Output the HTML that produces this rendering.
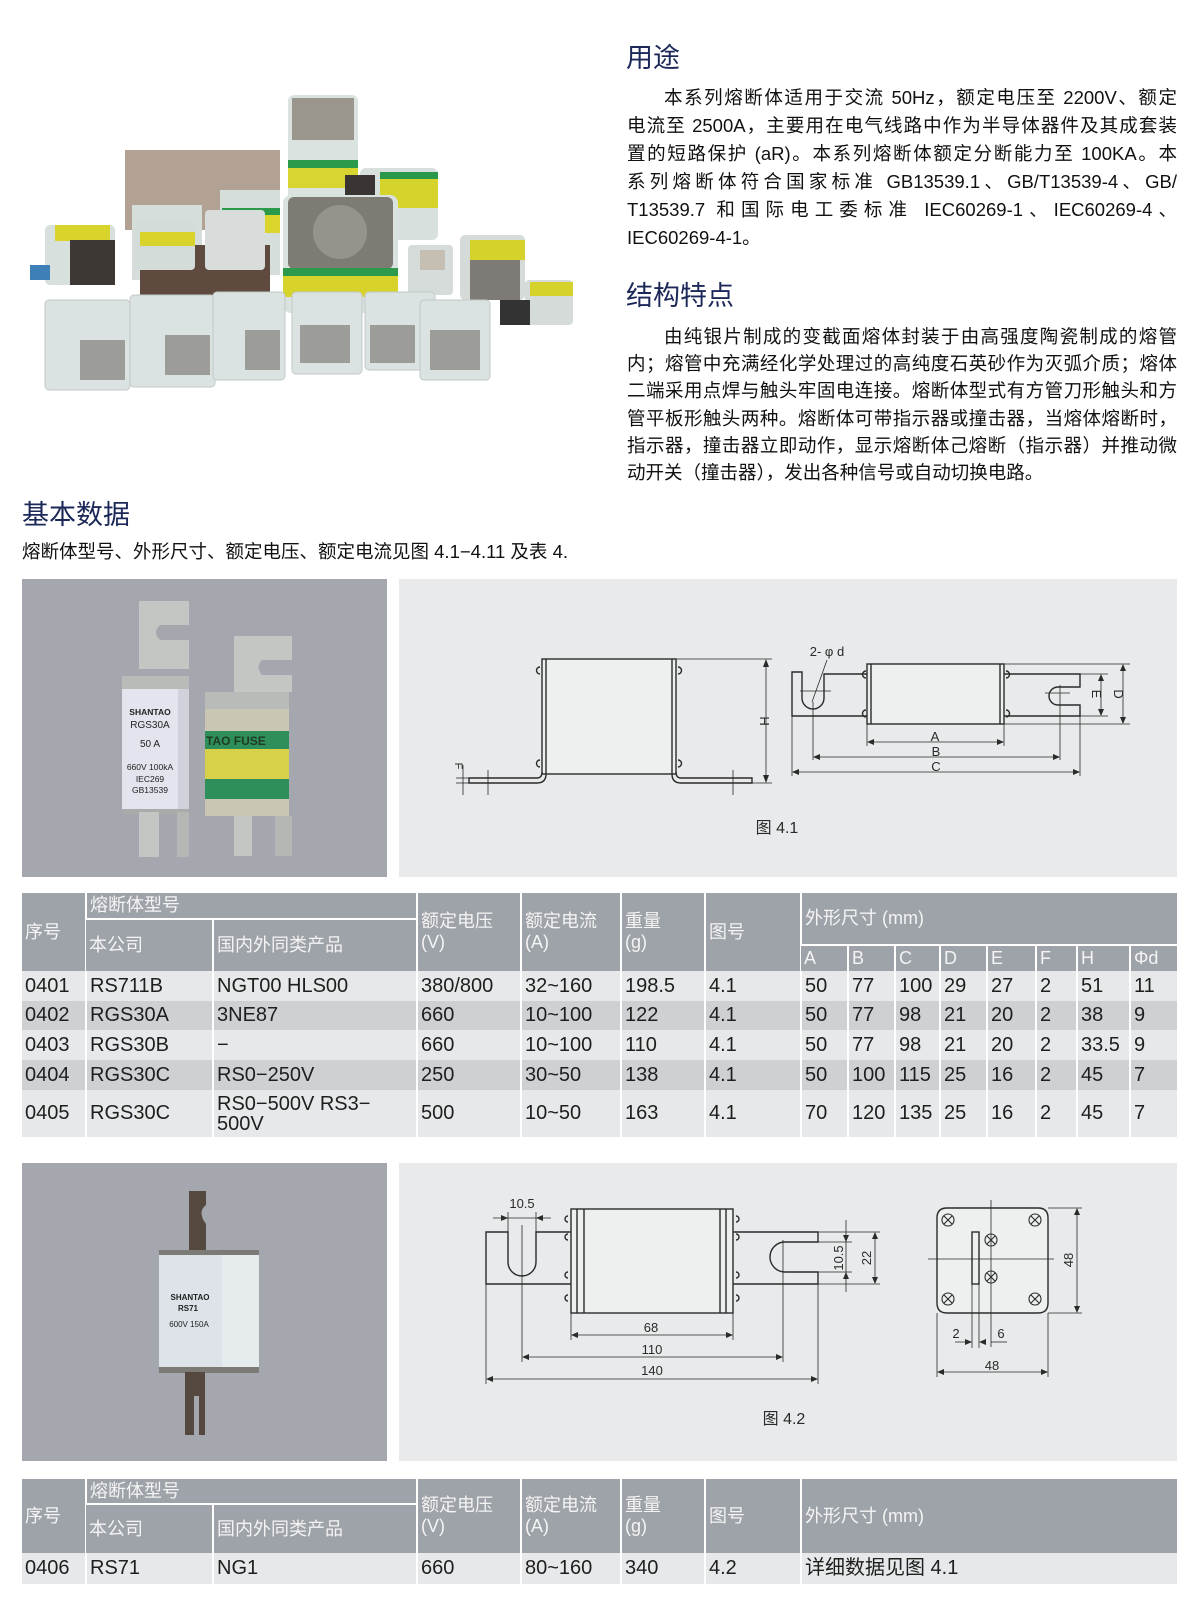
<!DOCTYPE html>
<html><head><meta charset="utf-8">
<style>
*{margin:0;padding:0;box-sizing:border-box}
body{width:1200px;height:1601px;background:#fff;position:relative;overflow:hidden;font-family:"Liberation Sans","Noto Sans CJK SC",sans-serif;color:#111}
.t{position:absolute;font-size:27px;color:#1c2858;line-height:32px;white-space:nowrap}
.ln{position:absolute;left:627px;width:550px;font-size:18.5px;line-height:26px;height:26px;white-space:nowrap;text-align:justify;text-align-last:justify;color:#111}
.ln.last{text-align:left;text-align-last:left}
.ln.ind{padding-left:37px}
.tb{position:absolute;left:22px;border-collapse:collapse;table-layout:fixed;width:1155px}
.tb td{padding:0 0 0 3px;border-left:2px solid #fff;white-space:nowrap;overflow:hidden}
.tb td:first-child{border-left:none}
.h td{background:#9ea2a9;color:#f4f4f4;font-size:18px;line-height:21px;vertical-align:middle}
.d td{font-size:20px;color:#1e1e1e;vertical-align:middle;line-height:21px}
.l td{background:#e6e8e9}.k td{background:#ced1d4}
.bt{border-bottom:2px solid #fff}
svg{position:absolute;left:0;top:0}
</style></head><body>
<svg width="1200" height="1601" viewBox="0 0 1200 1601" font-family="Liberation Sans, Noto Sans CJK SC, sans-serif">
<!-- top photo -->
<g>
 <rect x="125" y="150" width="155" height="80" fill="#b2a294" transform="skew(0,-3)"/>
 <rect x="132" y="205" width="70" height="75" fill="#d6dedc"/>
 <rect x="220" y="190" width="60" height="85" fill="#d6dedc"/>
 <rect x="222" y="215" width="58" height="18" fill="#d9d52a"/><rect x="222" y="208" width="58" height="7" fill="#2a9a4a"/>
 <rect x="288" y="95" width="70" height="105" rx="6" fill="#dbe3e1"/>
 <rect x="292" y="98" width="62" height="42" fill="#9a968d"/>
 <rect x="288" y="168" width="70" height="20" fill="#d8d430"/><rect x="288" y="160" width="70" height="8" fill="#2b9a4c"/>
 <rect x="360" y="168" width="78" height="72" rx="6" fill="#d8e0de"/>
 <rect x="380" y="178" width="58" height="30" fill="#d6d32c"/><rect x="380" y="172" width="58" height="7" fill="#2a984a"/>
 <rect x="345" y="175" width="30" height="50" fill="#3a3532"/>
 <rect x="45" y="225" width="70" height="60" rx="5" fill="#d8e0de"/><rect x="55" y="225" width="55" height="16" fill="#d8d42c"/>
 <rect x="70" y="240" width="45" height="45" fill="#3d3834"/>
 <rect x="30" y="265" width="20" height="15" fill="#3f7fb8"/>
 <rect x="140" y="245" width="130" height="55" fill="#5e4a3e"/>
 <rect x="135" y="220" width="60" height="50" rx="4" fill="#d4dcda"/><rect x="140" y="232" width="55" height="14" fill="#d8d42c"/>
 <rect x="205" y="210" width="60" height="60" rx="4" fill="#d8dddb"/>
 <rect x="283" y="195" width="115" height="118" rx="8" fill="#dae2e0"/>
 <rect x="288" y="197" width="105" height="72" rx="6" fill="#7e7b75"/><circle cx="340" cy="232" r="27" fill="#96938c"/>
 <rect x="283" y="275" width="115" height="22" fill="#d8d32a"/><rect x="283" y="268" width="115" height="8" fill="#2b9a4c"/>
 <rect x="408" y="245" width="45" height="50" rx="4" fill="#d6dcda"/><rect x="420" y="250" width="25" height="20" fill="#c4bfb2"/>
 <rect x="460" y="235" width="65" height="65" rx="5" fill="#d4dbd9"/><rect x="470" y="240" width="55" height="20" fill="#d6d22c"/>
 <rect x="470" y="260" width="50" height="40" fill="#7e7b76"/>
 <rect x="525" y="280" width="48" height="45" rx="4" fill="#d4dbd9"/><rect x="530" y="282" width="43" height="14" fill="#d6d22c"/>
 <rect x="500" y="300" width="30" height="25" fill="#333"/>
 <g fill="#dbe3e2" stroke="#c2c9c8">
  <rect x="45" y="300" width="85" height="90" rx="4"/><rect x="130" y="295" width="85" height="92" rx="4"/>
  <rect x="213" y="292" width="72" height="88" rx="4"/><rect x="292" y="292" width="70" height="82" rx="4"/>
  <rect x="365" y="292" width="70" height="78" rx="4"/><rect x="420" y="300" width="70" height="80" rx="4"/>
 </g>
 <g fill="#9c9d98"><rect x="80" y="340" width="45" height="40"/><rect x="165" y="335" width="45" height="40"/><rect x="245" y="330" width="35" height="40"/><rect x="300" y="325" width="50" height="38"/><rect x="370" y="325" width="45" height="38"/><rect x="430" y="330" width="50" height="40"/></g>
</g>
<!-- panels -->
<rect x="22" y="579" width="365" height="298" fill="#a4a8ae"/>
<rect x="399" y="579" width="778" height="298" fill="#e8eaeb"/>
<rect x="22" y="1163" width="365" height="298" fill="#a4a8ae"/>
<rect x="399" y="1163" width="778" height="298" fill="#e8eaeb"/>
<!-- photo 1 fuses -->
<path d="M139 601 H189 V625 H160 Q152 632 160 640 H189 V669 H139 Z" fill="#c4c6c4"/>
<rect x="122" y="676" width="67" height="14" fill="#b9bbb8"/>
<rect x="122" y="689" width="56" height="120" fill="#e3e5ee"/><rect x="178" y="689" width="11" height="120" fill="#cfd2da"/>
<rect x="122" y="809" width="67" height="5" fill="#aaa"/>
<rect x="139" y="812" width="20" height="45" fill="#c4c6c4"/><rect x="177" y="812" width="12" height="45" fill="#b5b7b5"/>
<g font-size="8.5" fill="#222" text-anchor="middle"><text x="150" y="715" font-weight="bold">SHANTAO</text><text x="150" y="728" font-size="10">RGS30A</text><text x="150" y="747" font-size="10">50   A</text><text x="150" y="770">660V 100kA</text><text x="150" y="782">IEC269</text><text x="150" y="793">GB13539</text></g>
<path d="M234 636 H292 V660 H262 Q255 667 262 675 H292 V692 H234 Z" fill="#c4c6c4"/>
<rect x="205" y="692" width="84" height="18" fill="#b9bbb8"/>
<rect x="205" y="709" width="84" height="107" fill="#c9c6b4"/>
<rect x="205" y="731" width="84" height="18" fill="#2f8f5a"/><rect x="205" y="749" width="84" height="30" fill="#d7d14a"/><rect x="205" y="779" width="84" height="20" fill="#2f8f5a"/>
<text x="206" y="745" font-size="12" font-weight="bold" fill="#1e3a22">TAO FUSE</text>
<rect x="234" y="816" width="18" height="40" fill="#c4c6c4"/><rect x="275" y="816" width="17" height="40" fill="#b5b7b5"/>
<!-- photo 2 fuse -->
<path d="M189 1191 H206 V1205 Q197 1212 206 1224 V1253 H189 Z" fill="#55483f"/>
<rect x="159" y="1250" width="100" height="6" fill="#7c7a74"/>
<rect x="159" y="1255" width="63" height="114" fill="#dde3e8"/><rect x="222" y="1255" width="37" height="114" fill="#e6ebee"/>
<rect x="159" y="1367" width="100" height="6" fill="#7c7a74"/>
<path d="M185 1372 H205 V1435 H199 V1396 H194 V1435 H185 Z" fill="#55483f"/>
<g font-size="8" fill="#222" text-anchor="middle"><text x="190" y="1300" font-weight="bold">SHANTAO</text><text x="188" y="1311" font-weight="bold">RS71</text><text x="189" y="1327">600V 150A</text></g>
<!-- drawing 4.1 -->
<g fill="none" stroke="#2a2a2a" stroke-width="1.4">
 <rect x="542" y="659" width="134" height="115" fill="#eef0f0"/>
 <line x1="546" y1="659" x2="546" y2="774"/><line x1="672" y1="659" x2="672" y2="774"/>
 <path d="M546 774 Q546 783 537 783 H469 V778 H537 Q542 778 542 772"/>
 <path d="M672 774 Q672 783 681 783 H752 V778 H681 Q676 778 676 772"/>
 <path d="M540 667 a3 3 0 0 0 0 7 M540 760 a3 3 0 0 0 0 7 M678 667 a3 3 0 0 1 0 7 M678 760 a3 3 0 0 1 0 7"/>
 <g stroke-width="0.8"><line x1="676" y1="659" x2="772" y2="659"/><line x1="752" y1="783" x2="772" y2="783"/><line x1="766" y1="661" x2="766" y2="781"/>
 <line x1="463" y1="765" x2="463" y2="795"/><line x1="488" y1="770" x2="488" y2="795"/><line x1="733" y1="770" x2="733" y2="795"/><line x1="456" y1="778" x2="470" y2="778"/><line x1="456" y1="783" x2="470" y2="783"/></g>
 <rect x="867" y="664" width="137" height="60" fill="#eef0f0"/>
 <line x1="871" y1="664" x2="871" y2="724"/><line x1="1000" y1="664" x2="1000" y2="724"/>
 <path d="M867 674 H824 V698 A11 11 0 0 1 802 698 V672 H792 V716 H867"/>
 <path d="M1004 674 H1080 V687 H1058 A9 9 0 0 0 1058 705 H1080 V716 H1004"/>
 <path d="M866 671 a3 3 0 0 0 0 7 M866 710 a3 3 0 0 0 0 7 M1006 671 a3 3 0 0 1 0 7 M1006 710 a3 3 0 0 1 0 7"/>
 <g stroke-width="0.8"><line x1="800" y1="691" x2="831" y2="691"/><line x1="1045" y1="693" x2="1070" y2="693"/><line x1="1060" y1="685" x2="1060" y2="760"/><line x1="813" y1="702" x2="813" y2="760"/>
 <line x1="827" y1="660" x2="812" y2="702"/>
 <line x1="1004" y1="664" x2="1130" y2="664"/><line x1="1004" y1="724" x2="1130" y2="724"/><line x1="1080" y1="674" x2="1108" y2="674"/><line x1="1080" y1="716" x2="1108" y2="716"/>
 <line x1="1123" y1="666" x2="1123" y2="722"/><line x1="1101" y1="676" x2="1101" y2="714"/>
 <line x1="867" y1="724" x2="867" y2="746"/><line x1="1004" y1="724" x2="1004" y2="746"/><line x1="869" y1="742" x2="1002" y2="742"/>
 <line x1="815" y1="757" x2="1058" y2="757"/><line x1="792" y1="716" x2="792" y2="776"/><line x1="1080" y1="716" x2="1080" y2="776"/><line x1="794" y1="772" x2="1078" y2="772"/></g>
</g>
<g fill="#2a2a2a">
 <path d="M766 659 l-3 8 h6z M766 783 l-3 -8 h6z M1123 664 l-3 7 h6z M1123 724 l-3 -7 h6z M1101 674 l-3 7 h6z M1101 716 l-3 -7 h6z"/>
 <path d="M867 742 l7 -3 v6z M1004 742 l-7 -3 v6z M813 757 l7 -3 v6z M1060 757 l-7 -3 v6z M792 772 l7 -3 v6z M1080 772 l-7 -3 v6z"/>
</g>
<g font-size="13" fill="#2a2a2a" text-anchor="middle">
 <text x="935" y="741">A</text><text x="936" y="756">B</text><text x="936" y="771">C</text>
 <text x="827" y="656">2- φ d</text>
 <text transform="translate(760,721) rotate(90)">H</text>
 <text transform="translate(455,766) rotate(90)" font-size="11">F</text>
 <text transform="translate(1114,694) rotate(90)">D</text>
 <text transform="translate(1092,694) rotate(90)">E</text>
 <text x="777" y="833" font-size="16">图 4.1</text>
</g>
<!-- drawing 4.2 -->
<g fill="none" stroke="#2a2a2a" stroke-width="1.4">
 <path d="M571 1232 H536 V1262 A14 14 0 0 1 508 1262 V1232 H486 V1284 H571"/>
 <path d="M733 1232 H818 V1242 H785 A15 15 0 0 0 785 1272 H818 V1284 H733"/>
 <rect x="571" y="1209" width="162" height="104" fill="#eef0f0"/>
 <line x1="577" y1="1209" x2="577" y2="1313"/><line x1="584" y1="1209" x2="584" y2="1313"/><line x1="720" y1="1209" x2="720" y2="1313"/><line x1="726" y1="1209" x2="726" y2="1313"/>
 <path d="M568 1216 a3 3 0 0 0 0 6 M568 1234 a3 3 0 0 0 0 6 M568 1272 a3 3 0 0 0 0 6 M568 1295 a3 3 0 0 0 0 6 M736 1216 a3 3 0 0 1 0 6 M736 1234 a3 3 0 0 1 0 6 M736 1272 a3 3 0 0 1 0 6 M736 1295 a3 3 0 0 1 0 6"/>
 <g stroke-width="0.8">
 <line x1="522" y1="1225" x2="522" y2="1362"/><line x1="783" y1="1240" x2="783" y2="1362"/><line x1="486" y1="1284" x2="486" y2="1384"/><line x1="818" y1="1284" x2="818" y2="1384"/>
 <line x1="571" y1="1313" x2="571" y2="1340"/><line x1="733" y1="1313" x2="733" y2="1340"/>
 <line x1="508" y1="1212" x2="508" y2="1232"/><line x1="536" y1="1212" x2="536" y2="1232"/><line x1="493" y1="1218" x2="551" y2="1218"/>
 <line x1="573" y1="1335" x2="731" y2="1335"/><line x1="524" y1="1357" x2="781" y2="1357"/><line x1="488" y1="1379" x2="816" y2="1379"/>
 <line x1="818" y1="1242" x2="852" y2="1242"/><line x1="818" y1="1272" x2="852" y2="1272"/><line x1="818" y1="1232" x2="880" y2="1232"/><line x1="818" y1="1284" x2="880" y2="1284"/>
 <line x1="846" y1="1220" x2="846" y2="1292"/><line x1="875" y1="1234" x2="875" y2="1282"/>
 </g>
 <path d="M947 1208 H1038 Q1048 1208 1048 1218 V1303 Q1048 1313 1038 1313 H947 Q937 1313 937 1303 V1218 Q937 1208 947 1208Z" fill="#eef0f0"/>
 <rect x="972" y="1232" width="7" height="52" fill="#eef0f0"/>
 <g stroke-width="0.8"><line x1="991" y1="1200" x2="991" y2="1347"/><line x1="928" y1="1259" x2="1054" y2="1259"/>
 <line x1="1048" y1="1208" x2="1082" y2="1208"/><line x1="1048" y1="1313" x2="1082" y2="1313"/><line x1="1077" y1="1210" x2="1077" y2="1311"/>
 <line x1="937" y1="1313" x2="937" y2="1377"/><line x1="1048" y1="1313" x2="1048" y2="1377"/><line x1="939" y1="1372" x2="1046" y2="1372"/>
 <line x1="972" y1="1284" x2="972" y2="1348"/><line x1="979" y1="1284" x2="979" y2="1348"/><line x1="955" y1="1342" x2="972" y2="1342"/><line x1="991" y1="1342" x2="1007" y2="1342"/></g>
 <g stroke-width="1.1">
  <circle cx="948" cy="1220" r="6"/><circle cx="1035" cy="1220" r="6"/><circle cx="948" cy="1299" r="6"/><circle cx="1035" cy="1299" r="6"/><circle cx="991" cy="1240" r="6"/><circle cx="991" cy="1277" r="6"/>
  <path d="M944 1216 l8 8 m0 -8 l-8 8 M1031 1216 l8 8 m0 -8 l-8 8 M944 1295 l8 8 m0 -8 l-8 8 M1031 1295 l8 8 m0 -8 l-8 8 M987 1236 l8 8 m0 -8 l-8 8 M987 1273 l8 8 m0 -8 l-8 8"/>
 </g>
</g>
<g fill="#2a2a2a">
 <path d="M508 1218 l-7 -3 v6z M536 1218 l7 -3 v6z M571 1335 l7 -3 v6z M733 1335 l-7 -3 v6z M522 1357 l7 -3 v6z M783 1357 l-7 -3 v6z M486 1379 l7 -3 v6z M818 1379 l-7 -3 v6z"/>
 <path d="M846 1242 l-3 -7 h6z M846 1272 l-3 7 h6z M875 1232 l-3 7 h6z M875 1284 l-3 -7 h6z M1077 1208 l-3 7 h6z M1077 1313 l-3 -7 h6z M937 1372 l7 -3 v6z M1048 1372 l-7 -3 v6z M972 1342 l-7 -3 v6z M979 1342 l7 -3 v6z"/>
</g>
<g font-size="13" fill="#2a2a2a" text-anchor="middle">
 <text x="522" y="1208">10.5</text><text x="651" y="1332">68</text><text x="652" y="1354">110</text><text x="652" y="1375">140</text>
 <text transform="translate(843,1258) rotate(-90)">10.5</text><text transform="translate(871,1258) rotate(-90)">22</text>
 <text transform="translate(1073,1260) rotate(-90)">48</text>
 <text x="956" y="1338">2</text><text x="1001" y="1338">6</text><text x="992" y="1370">48</text>
 <text x="784" y="1424" font-size="16">图 4.2</text>
</g>
</svg>

<div class="t" style="left:626px;top:42px">用途</div>
<div class="ln ind" style="top:85px">本系列熔断体适用于交流 50Hz，额定电压至 2200V、额定</div>
<div class="ln" style="top:113px">电流至 2500A，主要用在电气线路中作为半导体器件及其成套装</div>
<div class="ln" style="top:141px">置的短路保护 (aR)。本系列熔断体额定分断能力至 100KA。本</div>
<div class="ln" style="top:169px">系列熔断体符合国家标准 GB13539.1、GB/T13539-4、GB/</div>
<div class="ln" style="top:197px">T13539.7 和国际电工委标准 IEC60269-1、IEC60269-4、</div>
<div class="ln last" style="top:225px">IEC60269-4-1。</div>

<div class="t" style="left:626px;top:280px">结构特点</div>
<div class="ln ind" style="top:324px">由纯银片制成的变截面熔体封装于由高强度陶瓷制成的熔管</div>
<div class="ln" style="top:351px">内；熔管中充满经化学处理过的高纯度石英砂作为灭弧介质；熔体</div>
<div class="ln" style="top:378px">二端采用点焊与触头牢固电连接。熔断体型式有方管刀形触头和方</div>
<div class="ln" style="top:406px">管平板形触头两种。熔断体可带指示器或撞击器，当熔体熔断时，</div>
<div class="ln" style="top:433px">指示器，撞击器立即动作，显示熔断体己熔断（指示器）并推动微</div>
<div class="ln last" style="top:460px">动开关（撞击器），发出各种信号或自动切换电路。</div>

<div class="t" style="left:22px;top:499px">基本数据</div>
<div class="ln last" style="left:22px;top:539px;width:600px">熔断体型号、外形尺寸、额定电压、额定电流见图 4.1−4.11 及表 4.</div>

<table class="tb" style="top:893px">
<colgroup><col style="width:64px"><col style="width:127px"><col style="width:204px"><col style="width:104px"><col style="width:100px"><col style="width:84px"><col style="width:96px"><col style="width:47px"><col style="width:47px"><col style="width:45px"><col style="width:47px"><col style="width:49px"><col style="width:41px"><col style="width:53px"><col style="width:47px"></colgroup>
<tr class="h" style="height:26px"><td rowspan="3">序号</td><td colspan="2" class="bt">熔断体型号</td><td rowspan="3">额定电压<br>(V)</td><td rowspan="3">额定电流<br>(A)</td><td rowspan="3">重量<br>(g)</td><td rowspan="3">图号</td><td colspan="8" rowspan="2" class="bt">外形尺寸 (mm)</td></tr>
<tr class="h" style="height:26px"><td rowspan="2">本公司</td><td rowspan="2">国内外同类产品</td></tr>
<tr class="h" style="height:26px"><td>A</td><td>B</td><td>C</td><td>D</td><td>E</td><td>F</td><td>H</td><td>Φd</td></tr>
<tr class="d l" style="height:30px"><td>0401</td><td>RS711B</td><td>NGT00 HLS00</td><td>380/800</td><td>32~160</td><td>198.5</td><td>4.1</td><td>50</td><td>77</td><td>100</td><td>29</td><td>27</td><td>2</td><td>51</td><td>11</td></tr>
<tr class="d k" style="height:29px"><td>0402</td><td>RGS30A</td><td>3NE87</td><td>660</td><td>10~100</td><td>122</td><td>4.1</td><td>50</td><td>77</td><td>98</td><td>21</td><td>20</td><td>2</td><td>38</td><td>9</td></tr>
<tr class="d l" style="height:30px"><td>0403</td><td>RGS30B</td><td>−</td><td>660</td><td>10~100</td><td>110</td><td>4.1</td><td>50</td><td>77</td><td>98</td><td>21</td><td>20</td><td>2</td><td>33.5</td><td>9</td></tr>
<tr class="d k" style="height:30px"><td>0404</td><td>RGS30C</td><td>RS0−250V</td><td>250</td><td>30~50</td><td>138</td><td>4.1</td><td>50</td><td>100</td><td>115</td><td>25</td><td>16</td><td>2</td><td>45</td><td>7</td></tr>
<tr class="d l" style="height:47px"><td>0405</td><td>RGS30C</td><td style="line-height:20px">RS0−500V RS3−<br>500V</td><td>500</td><td>10~50</td><td>163</td><td>4.1</td><td>70</td><td>120</td><td>135</td><td>25</td><td>16</td><td>2</td><td>45</td><td>7</td></tr>
</table>

<table class="tb" style="top:1479px">
<colgroup><col style="width:64px"><col style="width:127px"><col style="width:204px"><col style="width:104px"><col style="width:100px"><col style="width:84px"><col style="width:96px"><col style="width:376px"></colgroup>
<tr class="h" style="height:25px"><td rowspan="2">序号</td><td colspan="2" class="bt">熔断体型号</td><td rowspan="2">额定电压<br>(V)</td><td rowspan="2">额定电流<br>(A)</td><td rowspan="2">重量<br>(g)</td><td rowspan="2">图号</td><td rowspan="2">外形尺寸 (mm)</td></tr>
<tr class="h" style="height:49px"><td>本公司</td><td>国内外同类产品</td></tr>
<tr class="d l" style="height:31px"><td>0406</td><td>RS71</td><td>NG1</td><td>660</td><td>80~160</td><td>340</td><td>4.2</td><td>详细数据见图 4.1</td></tr>
</table>
</body></html>
